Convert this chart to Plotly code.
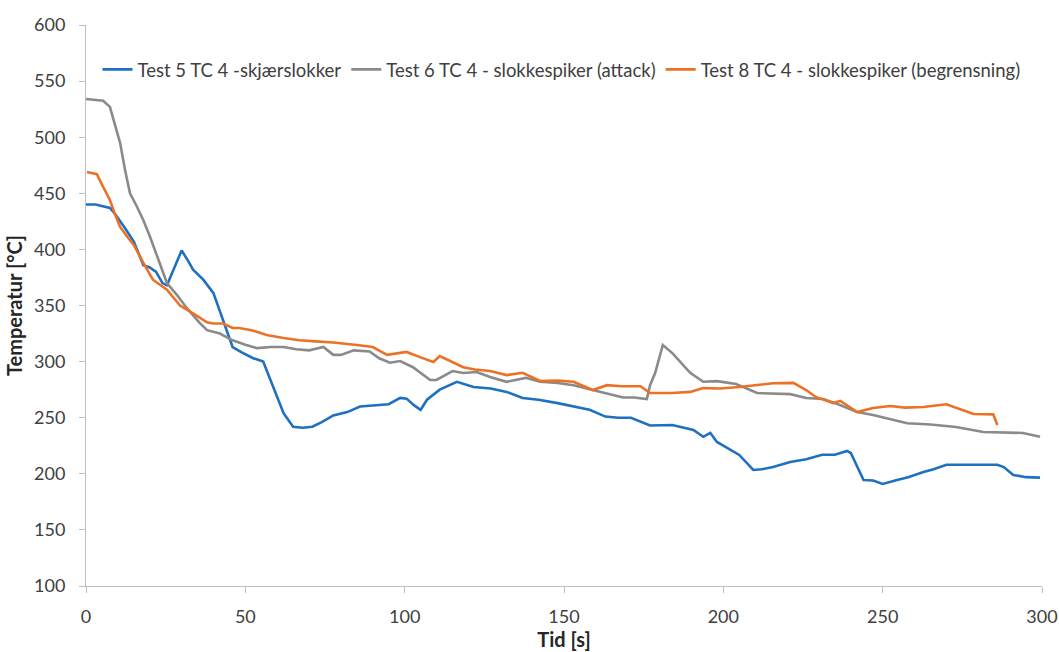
import plotly.graph_objects as go

# Test 5 TC 4 - skjærslokker
t5 = [0, 3, 7.5, 9, 12, 15, 18, 20, 22, 24, 25.4, 28, 30, 32, 33.6, 36.8, 40, 42, 44, 46, 49, 52.5, 55.6, 58.8, 62, 65, 68, 71, 74, 77.6, 82, 86,
      90, 95, 98.6, 100.6, 103, 105, 107, 111, 116.4, 121.6, 127, 132, 137, 142, 148, 153, 158, 163, 167, 171, 177, 184, 190.6,
      193.7, 195.9, 198, 202, 205, 209.4, 212, 215.6, 221, 226, 231, 235, 238.8, 240, 244, 247, 250, 254.5, 258, 262.8, 266, 270,
      277, 283.7, 286, 288, 291, 295, 299.4]
temp5 = [440, 440, 437, 432, 420, 407, 386, 384, 380, 370, 368, 385, 399, 390, 382, 373, 361, 345, 328, 313, 308, 303, 300, 277, 254, 242, 241, 242, 246, 252, 255, 260,
         261, 262, 267.6, 267, 261, 257, 266, 275, 282, 277.4, 276, 273, 267.5, 266, 263, 260, 257, 251, 250, 250, 243, 243.5, 239,
         233, 236.5, 228.4, 222, 216.8, 203.4, 204, 206, 210.5, 213, 217, 217, 220.4, 218.5, 194.5, 194, 191, 194.5, 197, 201.6, 204, 208,
         208, 208, 208, 206, 199, 197, 196.6]

# Test 6 TC 4 - slokkespiker (attack)
t6 = [0, 4.4, 5.4, 7.5, 9, 10.7, 12.3, 13.8, 16, 18, 20, 22, 25.4, 28.5, 31.6, 35.8, 38, 42, 46, 50, 53.6, 58, 62, 66, 70, 74.5, 77.6, 80, 84,
      89, 92, 95.4, 98.6, 102.6, 106, 108, 110, 115, 118.4, 122.6, 126.8, 132, 138, 142.5, 148, 153, 159, 163, 168.5, 172, 176,
      177, 178.6, 181, 184, 189.6, 193.7, 198, 204, 210.6, 221, 226, 231.4, 236, 242, 247, 252, 257.7, 265, 273, 281.6, 288, 294, 299.4]
temp6 = [534, 533, 532.5, 527, 512, 495, 470, 450, 438, 426, 412, 396.8, 370, 359.5, 347.8, 334, 328, 325, 319, 315, 312, 313, 313, 311, 310, 313, 306, 306, 310,
         309, 303, 299, 300.5, 295, 288, 283.6, 283.6, 291.6, 289.8, 290.7, 286.3, 282, 285.5, 282, 281, 279, 274.7, 272, 268, 268, 266.6,
         279, 289.8, 314.8, 307.6, 290, 282, 282.6, 280, 272, 271, 267.5, 266.6, 262, 255, 252.5, 249, 245, 244, 241.7, 237.3, 236.5, 236.4, 233]

# Test 8 TC 4 - slokkespiker (begrensning)
t8 = [0.3, 3.4, 5.4, 7.5, 9, 10.7, 13, 15, 18, 21, 25.4, 29.5, 33.6, 38, 40, 43, 46, 48, 52, 56.7, 62, 67, 72, 77.6, 85,
      90, 94.5, 100.6, 104.8, 109, 111, 114, 118.4, 122, 126.8, 132, 137, 142.5, 148, 153, 159, 163.5, 168, 174, 177, 184, 189.6,
      193.7, 199, 205, 210, 215.6, 222, 226, 229, 234.5, 236.7, 242, 247, 252.4, 257, 262.8, 270, 273, 278.5, 284.7, 286]
temp8 = [469, 467, 455.6, 444, 432, 420, 411, 404, 388, 373, 364, 350, 343, 335, 334, 334, 330, 330, 328, 323.7, 321, 319, 318, 317, 314.8,
         313, 306, 308.6, 304, 299.6, 305, 301, 295, 293, 291.6, 288, 290, 282.7, 283, 282, 274.7, 279, 278, 278, 272, 272, 273,
         276.4, 276, 277.4, 279, 280.7, 281, 274.7, 268.5, 263, 265, 255, 258.7, 260.4, 259, 259.5, 262, 258.7, 253.3, 253, 243.5]

names = ["Test 5 TC 4 -skjærslokker",
         "Test 6 TC 4 - slokkespiker (attack)",
         "Test 8 TC 4 - slokkespiker (begrensning)"]
colors = ["#1f70c1", "#8a8a8a", "#ec7125"]

fig = go.Figure()
for t, v, name, c in zip([t5, t6, t8], [temp5, temp6, temp8], names, colors):
    fig.add_trace(go.Scatter(x=t, y=v, mode="lines", name=name,
                             line=dict(color=c, width=2.6)))

FONT = "Lato"
axis_font = dict(family=FONT, size=18, color="#404040")
title_font = dict(family=FONT, size=20, color="#262626")
fig.update_layout(
    width=1059, height=652,
    margin=dict(l=86, r=17, t=25, b=66),
    plot_bgcolor="white", paper_bgcolor="white",
    font=dict(family=FONT, color="#404040"),
    showlegend=True,
    legend=dict(orientation="h", x=0.012, y=0.92, xanchor="left", yanchor="middle",
                font=dict(family=FONT, size=18.5, color="#404040"),
                itemwidth=30, bgcolor="rgba(0,0,0,0)", tracegroupgap=0),
    xaxis=dict(range=[0, 300], tickvals=[0, 50, 100, 150, 200, 250, 300], automargin=False,
               showgrid=False, zeroline=False, showline=True, linecolor="#bfbfbf", linewidth=1,
               ticks="outside", tickcolor="#bfbfbf", ticklen=6, tickfont=axis_font,
               ticklabelstandoff=8,
               title=dict(text="<b>Tid [s]</b>", font=title_font, standoff=6)),
    yaxis=dict(range=[100, 600], tickvals=[100, 150, 200, 250, 300, 350, 400, 450, 500, 550, 600], automargin=False,
               showgrid=False, zeroline=False, showline=True, linecolor="#bfbfbf", linewidth=1,
               ticks="outside", tickcolor="#bfbfbf", ticklen=6, tickfont=axis_font,
               ticklabelstandoff=10,
               title=dict(text="<b>Temperatur [°C]</b>", font=title_font, standoff=6)),
)

fig.write_html("out.html")
